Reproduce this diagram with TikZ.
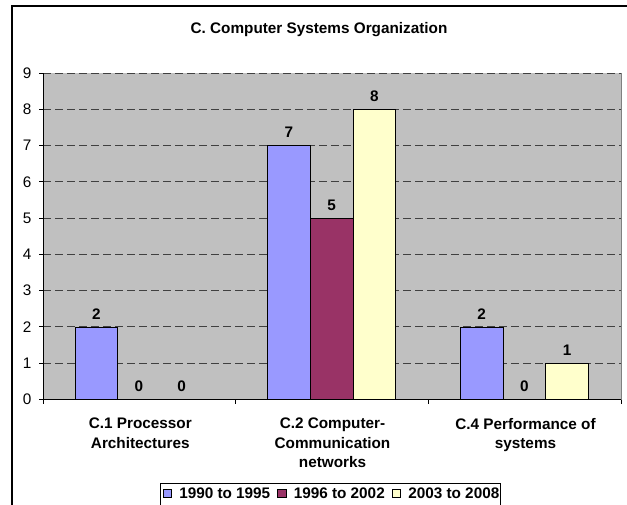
\documentclass[tikz,border=0pt]{standalone}
\usepackage{fontspec}
\setmainfont{Liberation Sans}
\definecolor{bblue}{HTML}{9999FF}
\definecolor{bmaroon}{HTML}{993366}
\definecolor{byellow}{HTML}{FFFFCC}
\definecolor{plotgray}{HTML}{C0C0C0}
\begin{document}
\begin{tikzpicture}[x=1pt,y=-1pt,
  bar/.style={draw=black, line width=0.8pt},
  gridline/.style={draw=black!75, line width=0.9pt, dash pattern=on 8pt off 4pt},
  axisline/.style={draw=black, line width=0.9pt},
  vlabel/.style={font=\bfseries\fontsize{15.3}{18}\selectfont, inner sep=0pt},
  ylabel/.style={font=\fontsize{15.3}{18}\selectfont, inner sep=0pt, anchor=east},
  catlabel/.style={font=\bfseries\fontsize{15.3}{19.5}\selectfont, inner sep=0pt, align=center, anchor=north},
  swatch/.style={draw=black, line width=0.6pt, minimum size=8.5pt, inner sep=0pt},
  legtext/.style={font=\bfseries\fontsize{15.3}{18}\selectfont, inner sep=0pt, anchor=west}]
\useasboundingbox (0,0) rectangle (627,504);
\clip (0,0) rectangle (627,504);
\fill[white] (0,0) rectangle (627,504);
% outer frame
\draw[line width=1.3pt] (12,6) rectangle (700,600);
% title
\node[font=\bfseries\fontsize{15.3}{18}\selectfont, inner sep=0pt] (title) at (319,30) {C. Computer Systems Organization};
% plot area
\fill[plotgray] (43,73) rectangle (621,399.5);
\draw[draw=gray, line width=0.9pt] (621,73) -- (621,399.5);
\foreach \v in {1,...,9}
  \draw[gridline] (43,{399.5-36.28*\v}) -- (621,{399.5-36.28*\v});
% bars
\foreach \k/\i/\v/\c in {0/0/2/bblue, 1/0/7/bblue, 1/1/5/bmaroon, 1/2/8/byellow, 2/0/2/bblue, 2/2/1/byellow}
  \draw[bar, fill=\c] ({43+192.67*\k+32+42.67*\i},399.5) rectangle ++(42.67,{-36.28*\v});
% data labels
\foreach \k/\i/\v in {0/0/2, 0/1/0, 0/2/0, 1/0/7, 1/1/5, 1/2/8, 2/0/2, 2/1/0, 2/2/1}
  \node[vlabel] (d\k\i) at ({43+192.67*\k+32+42.67*\i+21.33},{399.5-36.28*\v-13}) {\v};
% axes
\draw[axisline] (43,73) -- (43,399.5) -- (621,399.5);
\foreach \v in {0,...,9} {
  \draw[axisline] (39,{399.5-36.28*\v}) -- (43,{399.5-36.28*\v});
  \node[ylabel] (y\v) at (31.5,{399.5-36.28*\v}) {\v};
}
\foreach \k in {0,...,3}
  \draw[axisline] ({43+192.67*\k},399.5) -- ({43+192.67*\k},404);
% category labels
\node[catlabel] (c1) at (140.3,418) {C.1 Processor\\Architectures};
\node[catlabel] (c2) at (332.5,418) {C.2 Computer-\\Communication\\networks};
\node[catlabel] (c4) at (525.5,418) {C.4 Performance of\\systems};
% legend
\draw[line width=0.9pt] (160,483) rectangle (500,520);
\node[swatch, fill=bblue] (s1) at (167.5,493.5) {};
\node[legtext] (t1) at ([xshift=7pt]s1.east) {1990 to 1995};
\node[swatch, fill=bmaroon, anchor=west] (s2) at ([xshift=7pt]t1.east) {};
\node[legtext] (t2) at ([xshift=7pt]s2.east) {1996 to 2002};
\node[swatch, fill=byellow, anchor=west] (s3) at ([xshift=7pt]t2.east) {};
\node[legtext] (t3) at ([xshift=7pt]s3.east) {2003 to 2008};
\end{tikzpicture}
\end{document}
